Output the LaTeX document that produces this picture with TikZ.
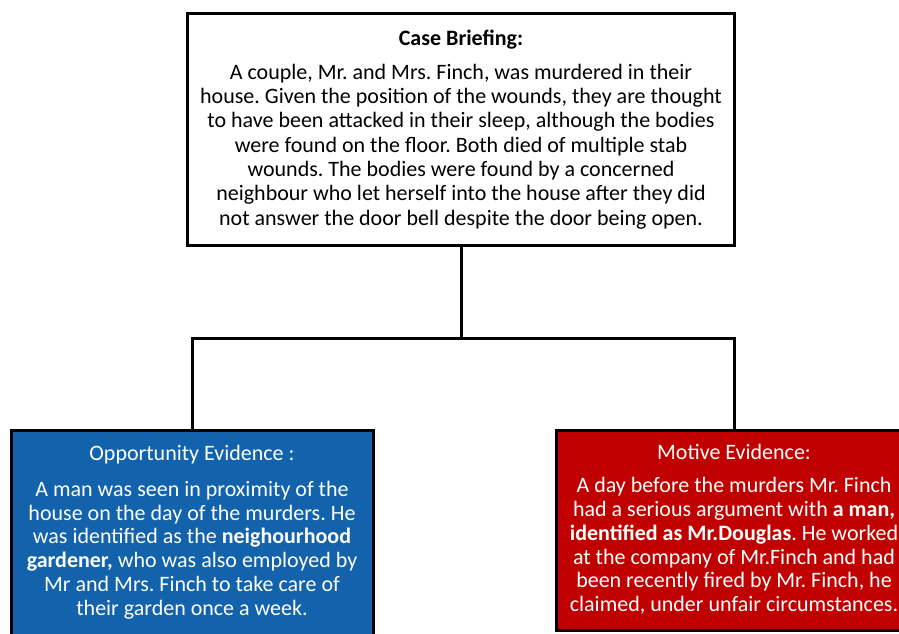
\documentclass[tikz,border=0pt]{standalone}
\usepackage{fontspec}
\setmainfont{Carlito}
\definecolor{oppblue}{RGB}{18,98,172}
\definecolor{motred}{RGB}{192,0,0}
\tikzset{
  box/.style={draw=black, line width=3pt, rectangle, inner sep=0pt},
  conn/.style={draw=black, line width=3pt},
  bodytxt/.style={align=center, inner sep=0pt, font=\fontsize{22}{24.3}\selectfont},
  evtxt/.style={align=center, inner sep=0pt, text=white, font=\fontsize{22}{23.8}\selectfont},
}
\frenchspacing
\begin{document}
\begin{tikzpicture}[x=1pt,y=-1pt]
\useasboundingbox (0,0) rectangle (899,633);
\clip (0,0) rectangle (899,633);
\fill[white] (0,0) rectangle (899,633);
% boxes
\node[box, fill=white, minimum width=547pt, minimum height=232pt] (brief) at (460.5,129) {};
\node[box, fill=oppblue, minimum width=362pt, minimum height=214pt] (opp) at (192,537) {};
\node[box, fill=motred, minimum width=356pt, minimum height=200pt] (mot) at (734,530) {};
% connectors
\coordinate (j) at (461,338);
\draw[conn] (brief.south -| j) -- (j);
\draw[conn] (opp.north) |- (j) -| (mot.north);
% texts
\node[bodytxt, font=\fontsize{22}{24.3}\selectfont\bfseries] (bt) at (461,40) {Case Briefing:};
\node[bodytxt] (bb) at (461,146.5) {A couple, Mr. and Mrs. Finch, was murdered in their\\
house. Given the position of the wounds, they are thought\\
to have been attacked in their sleep, although the bodies\\
were found on the floor. Both died of multiple stab\\
wounds. The bodies were found by a concerned\\
neighbour who let herself into the house after they did\\
not answer the door bell despite the door being open.};
\node[evtxt] (ot) at (192,455) {Opportunity Evidence :};
\node[evtxt] (ob) at (192,550) {A man was seen in proximity of the\\
house on the day of the murders. He\\
was identified as the \textbf{neighourhood}\\
\textbf{gardener,} who was also employed by\\
Mr and Mrs. Finch to take care of\\
their garden once a week.};
\node[evtxt] (mt) at (734,452) {Motive Evidence:};
\node[evtxt] (mb) at (734,546) {A day before the murders Mr. Finch\\
had a serious argument with \textbf{a man,}\\
\textbf{identified as Mr.Douglas}. He worked\\
at the company of Mr.Finch and had\\
been recently fired by Mr. Finch, he\\
claimed, under unfair circumstances.};
\end{tikzpicture}
\end{document}
